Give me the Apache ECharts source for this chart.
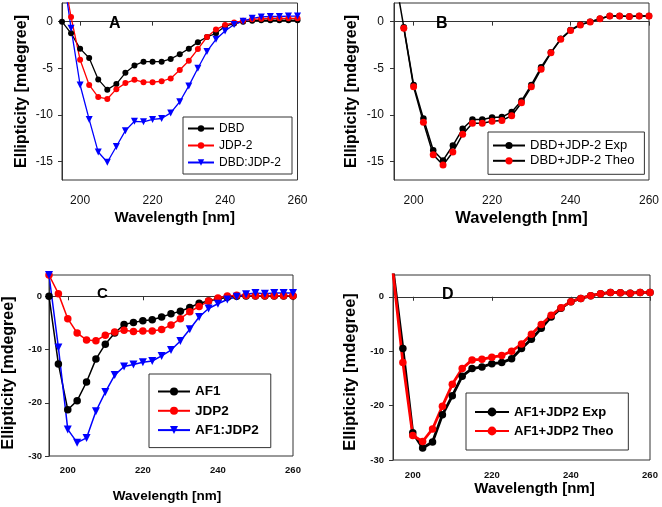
<!DOCTYPE html>
<html><head><meta charset="utf-8">
<script src="https://cdn.jsdelivr.net/npm/echarts@6/dist/echarts.min.js"></script>
<style>html,body{margin:0;padding:0;background:#fff}#c{width:662px;height:507px}</style>
</head><body><div id="c"></div>
<script>
// ---------- data ----------
const wavelength = [195,197.5,200,202.5,205,207.5,210,212.5,215,217.5,220,222.5,225,227.5,230,232.5,235,237.5,240,242.5,245,247.5,250,252.5,255,257.5,260];
const xTickLabels = [200,220,240,260];
const yTicksAB = [0,-5,-10,-15];
const yTicksCD = [0,-10,-20,-30];

// Panel A
const aDBD    = [0,-1.25,-2.9,-3.9,-6.2,-7.3,-6.7,-5.5,-4.7,-4.3,-4.3,-4.3,-4.0,-3.5,-2.9,-2.2,-1.65,-1.25,-0.5,-0.2,0.0,0.1,0.15,0.15,0.15,0.15,0.15];
const aJDP2   = [5.8,0.5,-4.1,-6.8,-8.1,-8.3,-7.25,-6.6,-6.25,-6.5,-6.5,-6.4,-6.1,-5.2,-4.2,-2.95,-1.65,-0.85,-0.35,-0.1,0.1,0.25,0.3,0.35,0.35,0.35,0.35];
const aDBDJDP = [6,-0.7,-6.8,-10.5,-14.0,-15.1,-13.4,-11.7,-10.7,-10.75,-10.5,-10.4,-9.8,-8.6,-6.9,-5.0,-3.2,-1.9,-1.0,-0.3,0.05,0.35,0.5,0.55,0.55,0.6,0.6];
// Panel B
const bExp  = [5.5,-0.6,-6.8,-10.4,-13.8,-14.9,-13.3,-11.5,-10.5,-10.5,-10.3,-10.25,-9.7,-8.5,-6.8,-4.9,-3.3,-1.85,-0.9,-0.3,0.0,0.3,0.6,0.6,0.55,0.6,0.6];
const bTheo = [null,-0.7,-7.0,-10.8,-14.3,-15.4,-14.0,-12.1,-10.9,-10.9,-10.7,-10.6,-10.1,-8.7,-7.0,-5.1,-3.35,-1.9,-0.95,-0.35,-0.05,0.3,0.6,0.6,0.55,0.6,0.6];
// Panel C
const cAF1     = [0,-12.7,-21.3,-19.6,-16.1,-11.8,-9.0,-6.9,-5.3,-4.9,-4.6,-4.4,-3.9,-3.3,-2.8,-2.1,-1.3,-0.9,-0.5,-0.2,0.0,0.05,0.05,0.05,0.05,0.05,0.05];
const cJDP2    = [4,0.5,-4.2,-6.9,-8.2,-8.35,-7.3,-6.7,-6.4,-6.6,-6.5,-6.5,-6.25,-5.4,-4.2,-2.9,-1.9,-0.9,-0.3,0.05,0.2,0.15,0.1,0.1,0.1,0.1,0.1];
const cAF1JDP2 = [4,-9.6,-25.0,-27.5,-26.6,-21.6,-18.0,-14.8,-13.2,-12.8,-12.4,-12.15,-11.2,-10.1,-8.4,-6.2,-3.9,-2.3,-1.4,-0.6,-0.1,0.4,0.6,0.5,0.6,0.6,0.6];
// Panel D
const dExp  = [5,-9.5,-25.0,-27.8,-26.7,-21.7,-18.2,-14.6,-13.2,-12.9,-12.3,-12.1,-11.4,-9.5,-7.8,-5.8,-3.7,-2.1,-0.9,-0.3,0.2,0.55,0.8,0.75,0.65,0.8,0.8];
const dTheo = [4.5,-12.1,-25.5,-26.6,-24.3,-20.1,-16.1,-13.2,-11.6,-11.5,-11.1,-10.8,-10.0,-8.7,-6.9,-5.1,-3.4,-2.0,-0.9,-0.3,0.2,0.55,0.8,0.75,0.65,0.8,0.8];

// ---------- helpers ----------
const FONT = "'Liberation Sans', Arial, sans-serif";
const grids = [
  {left:62,  top:3,   width:235.5, height:177},
  {left:394, top:3,   width:255,   height:177},
  {left:49,  top:275, width:244,   height:181},
  {left:393, top:275, width:257,   height:185}
];
const panelCfg = [
  {ymin:-17, ymax:2, yt:yTicksAB, lblSize:12, lblBold:'normal', xm:15, ym:9, yGap:32, xGap:30, ynSize:16, xnSize:15, xnPad:[0,10,0,0], ynPad:[0,0,0,0]},
  {ymin:-17, ymax:2, yt:yTicksAB, lblSize:12, lblBold:'normal', xm:15, ym:10, yGap:34, xGap:30, ynSize:16, xnSize:16.5, xnPad:[0,0,0,0], ynPad:[0,0,0,0]},
  {ymin:-30, ymax:4, yt:yTicksCD, lblSize:9.5, lblBold:'bold', xm:9, ym:7, yGap:32, xGap:33, ynSize:16, xnSize:13.5, xnPad:[0,8,0,0], ynPad:[0,15,0,0]},
  {ymin:-30, ymax:4, yt:yTicksCD, lblSize:9.5, lblBold:'bold', xm:10, ym:9, yGap:34, xGap:19, ynSize:16.5, xnSize:15, xnPad:[0,0,0,26], ynPad:[0,9,0,0]}
];
const xAxes = panelCfg.map((p,i)=>({
  type:'value', gridIndex:i, min:195, max:260,
  name:'Wavelength [nm]', nameLocation:'middle', nameGap:p.xGap,
  nameTextStyle:{fontFamily:FONT, fontWeight:'bold', fontSize:p.xnSize, color:'#000', padding:p.xnPad},
  axisLine:{show:true, lineStyle:{color:'#333', width:1}},
  axisTick:{show:true, inside:false, length:4, lineStyle:{color:'#333'}, customValues:xTickLabels},
  axisLabel:{fontFamily:FONT, fontSize:p.lblSize, fontWeight:p.lblBold, color:'#111', margin:p.xm, customValues:xTickLabels},
  splitLine:{show:false}
}));
const yAxes = panelCfg.map((p,i)=>({
  type:'value', gridIndex:i, min:p.ymin, max:p.ymax,
  name:'Ellipticity [mdegree]', nameLocation:'middle', nameGap:p.yGap, nameRotate:90,
  nameTextStyle:{fontFamily:FONT, fontWeight:'bold', fontSize:p.ynSize, color:'#000', padding:p.ynPad},
  axisLine:{show:true, lineStyle:{color:'#333', width:1}},
  axisTick:{show:true, inside:false, length:4, lineStyle:{color:'#333'}, customValues:p.yt},
  axisLabel:{fontFamily:FONT, fontSize:p.lblSize, fontWeight:p.lblBold, color:'#111', margin:p.ym, customValues:p.yt},
  splitLine:{show:false}
}));
function mk(name, vals, gi, fill, stroke, symbol, size, width, rotate){
  return {
    name, type:'line', xAxisIndex:gi, yAxisIndex:gi,
    data: wavelength.map((w,i)=>[w, vals[i]===null ? '-' : vals[i]]),
    symbol, symbolSize:size, symbolRotate:rotate||0, showAllSymbol:true,
    lineStyle:{color:stroke, width}, itemStyle:{color:fill, borderWidth:0},
    clip:true, animation:false, emphasis:{disabled:true}, silent:true
  };
}
const RED='#ff0000', BLUE='#0000ff', BLK='#000000';
const series = [
  mk('DBD', aDBD, 0, BLK, BLK, 'circle', 6, 1.3),
  mk('JDP-2', aJDP2, 0, RED, RED, 'circle', 6, 1.3),
  mk('DBD:JDP-2', aDBDJDP, 0, BLUE, BLUE, 'triangle', 7, 1.3, 180),
  mk('DBD+JDP-2 Exp', bExp, 1, BLK, BLK, 'circle', 6.5, 1.5),
  mk('DBD+JDP-2 Theo', bTheo, 1, RED, BLK, 'circle', 7, 1.5),
  mk('AF1', cAF1, 2, BLK, BLK, 'circle', 7.5, 1.5),
  mk('JDP2', cJDP2, 2, RED, RED, 'circle', 7.5, 1.5),
  mk('AF1:JDP2', cAF1JDP2, 2, BLUE, BLUE, 'triangle', 8, 1.5, 180),
  mk('AF1+JDP2 Exp', dExp, 3, BLK, BLK, 'circle', 7.5, 2.8),
  mk('AF1+JDP2 Theo', dTheo, 3, RED, RED, 'circle', 7.5, 2.8)
];
function leg(names, left, top, iw, ih, gap, pad, fs, fw){
  return {
    data:names, orient:'vertical', left, top, itemWidth:iw, itemHeight:ih, itemGap:gap,
    padding:pad, backgroundColor:'#fff', borderColor:'#333', borderWidth:1, borderRadius:0,
    textStyle:{fontFamily:FONT, fontSize:fs, fontWeight:fw, color:'#000'},
    selectedMode:false, icon:undefined
  };
}
const legends = [
  leg(['DBD','JDP-2','DBD:JDP-2'], 183, 117, 26, 8, 5, [5.5,11,5.5,4], 12, 'normal'),
  leg(['DBD+JDP-2 Exp','DBD+JDP-2 Theo'], 488, 132, 32, 9, 2.3, [7,10,7,4], 13, 'normal'),
  leg(['AF1','JDP2','AF1:JDP2'], 149, 374, 32, 10, 5.3, [10.5,12,10.5,8], 13.5, 'bold'),
  leg(['AF1+JDP2 Exp','AF1+JDP2 Theo'], 466, 393, 34, 11, 6, [12.5,15,12.5,8], 13, 'bold')
];
const titles = [
  {text:'A', left:109, top:16, fs:16},
  {text:'B', left:436, top:16, fs:16},
  {text:'C', left:97,  top:286, fs:15},
  {text:'D', left:442, top:287, fs:16}
].map(t=>({text:t.text, left:t.left, top:t.top, padding:0,
  textStyle:{fontFamily:FONT, fontSize:t.fs, fontWeight:'bold', color:'#000'}}));

const chart = echarts.init(document.getElementById('c'), null, {renderer:'canvas'});
chart.setOption({
  animation:false,
  backgroundColor:'#fff',
  title:titles,
  grid:grids.map(g=>Object.assign({show:true, borderColor:'#333', borderWidth:1, backgroundColor:'transparent', containLabel:false}, g)),
  xAxis:xAxes, yAxis:yAxes,
  legend:legends,
  series
});
</script></body></html>
